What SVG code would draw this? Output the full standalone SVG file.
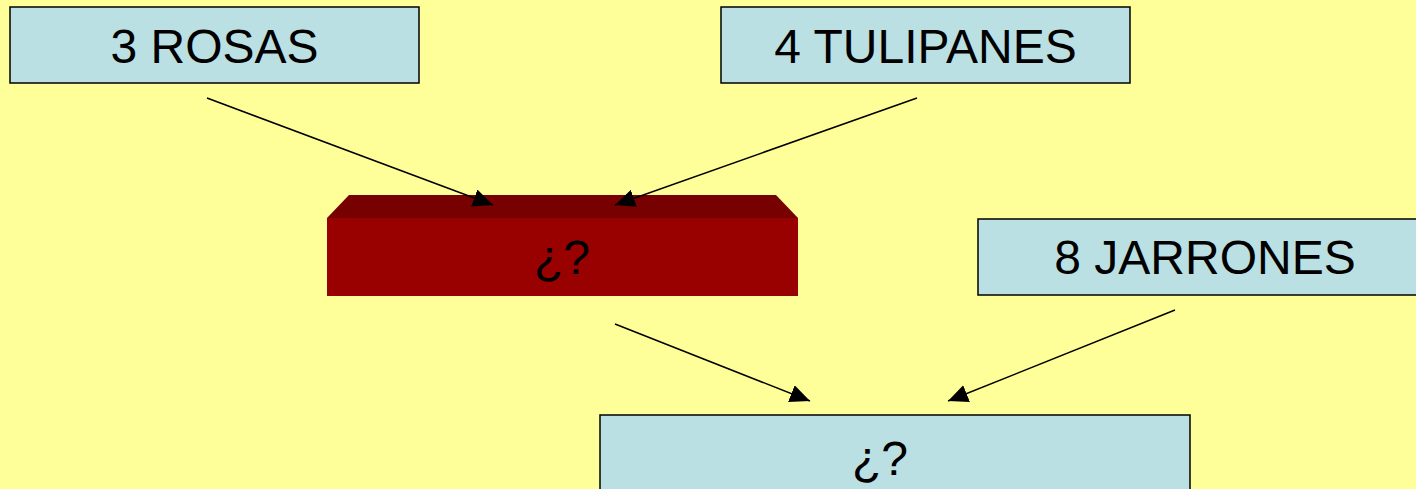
<svg xmlns="http://www.w3.org/2000/svg" width="1416" height="489" viewBox="0 0 1416 489">
<style>
.box{fill:#BBE0E3;stroke:#000;stroke-width:1.5}
.t{font-family:"Liberation Sans",Arial,sans-serif;font-size:48px;fill:#000;text-anchor:middle}
.c{stroke:#000;stroke-width:1.5;fill:none;marker-end:url(#ah)}
</style>
<defs>
<marker id="ah" viewBox="0 0 20 18" refX="20" refY="9" markerWidth="20" markerHeight="18" markerUnits="userSpaceOnUse" orient="auto">
<path d="M0,0 L20,9 L0,18 Z" fill="#000"/>
</marker>
</defs>
<rect width="1416" height="489" fill="#FFFF99"/>
<g id="rosas">
<rect class="box" x="10" y="7" width="409" height="76"/>
<text class="t" x="214.5" y="63">3 ROSAS</text>
</g>
<g id="tulipanes">
<rect class="box" x="721" y="7" width="409" height="76"/>
<text class="t" x="925.5" y="63">4 TULIPANES</text>
</g>
<g id="jarrones">
<rect class="box" x="978" y="219" width="445" height="76"/>
<text class="t" x="1205" y="274">8 JARRONES</text>
</g>
<g id="pregunta1">
<polygon points="327,218 349,195 776,195 798,218" fill="#770000"/>
<rect x="327" y="218" width="471" height="78" fill="#990000"/>
<text class="t" x="562" y="274">¿?</text>
</g>
<g id="pregunta2">
<rect class="box" x="600" y="415" width="590" height="90"/>
<text class="t" x="880" y="475">¿?</text>
</g>
<g id="connectors">
<line class="c" x1="207" y1="98" x2="493" y2="205"/>
<line class="c" x1="917" y1="98" x2="615" y2="205"/>
<line class="c" x1="615" y1="324" x2="810" y2="401"/>
<line class="c" x1="1175" y1="310" x2="948" y2="401"/>
</g>
</svg>
